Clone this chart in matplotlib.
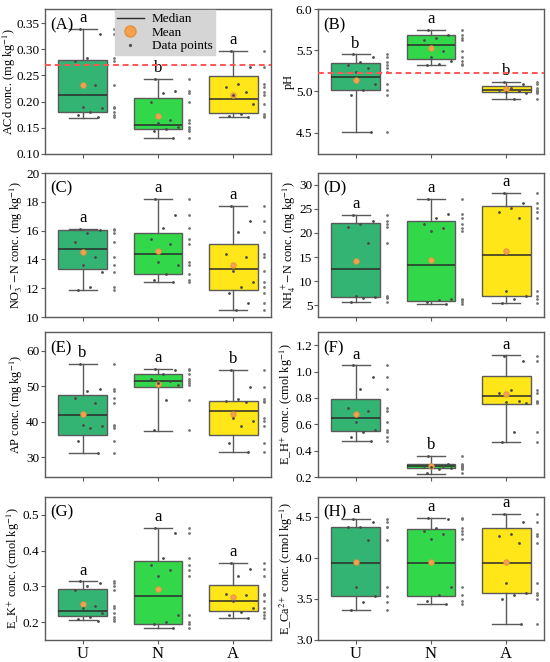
import numpy as np
import matplotlib
matplotlib.use('Agg')
import matplotlib.pyplot as plt
from matplotlib.lines import Line2D

plt.rcParams['font.family'] = ['Liberation Serif', 'DejaVu Serif']
plt.rcParams['mathtext.fontset'] = 'stix'

groups = ['U', 'N', 'A']
colors = ['#34b472', '#33d84a', '#ffe619']

# box stats per panel: whislo, q1, median, q3, whishi, mean  (U, N, A)
acd_stats = [[0.169, 0.180, 0.212, 0.280, 0.339, 0.232],
             [0.130, 0.147, 0.155, 0.207, 0.244, 0.172],
             [0.170, 0.178, 0.205, 0.249, 0.297, 0.212]]
ph_stats = [[4.51, 5.02, 5.17, 5.34, 5.45, 5.14],
            [5.32, 5.39, 5.56, 5.68, 5.745, 5.53],
            [4.91, 4.99, 5.02, 5.06, 5.12, 5.03]]
no3_stats = [[11.9, 13.3, 14.7, 16.05, 16.1, 14.5],
             [12.4, 13.0, 14.4, 15.8, 18.2, 14.6],
             [10.5, 11.9, 13.3, 15.1, 17.7, 13.6]]
nh4_stats = [[5.8, 6.8, 12.5, 22.1, 23.75, 14.2],
             [5.2, 6.0, 13.3, 22.4, 27.0, 14.4],
             [5.5, 6.9, 15.4, 25.5, 28.3, 16.2]]
ap_stats = [[31.3, 36.4, 41.9, 47.6, 56.4, 42.2],
            [37.5, 49.9, 51.5, 53.4, 55.0, 50.6],
            [31.5, 36.4, 43.2, 45.9, 54.6, 42.1]]
eh_stats = [[0.475, 0.549, 0.649, 0.792, 1.047, 0.677],
            [0.225, 0.266, 0.284, 0.297, 0.363, 0.282],
            [0.465, 0.756, 0.812, 0.965, 1.123, 0.827]]
ek_stats = [[0.206, 0.218, 0.232, 0.293, 0.314, 0.250],
            [0.185, 0.195, 0.274, 0.370, 0.464, 0.294],
            [0.213, 0.232, 0.260, 0.304, 0.366, 0.272]]
eca_stats = [[3.36, 3.53, 3.94, 4.38, 4.467, 3.955],
             [3.44, 3.54, 3.94, 4.345, 4.49, 3.955],
             [3.20, 3.57, 3.94, 4.365, 4.53, 3.95]]

# raw data points (U, N, A)
acd_pts = [[0.339, 0.330, 0.284, 0.277, 0.232, 0.190, 0.187, 0.180, 0.175, 0.170],
           [0.243, 0.221, 0.216, 0.199, 0.165, 0.159, 0.152, 0.148, 0.143, 0.130],
           [0.297, 0.266, 0.233, 0.228, 0.219, 0.212, 0.195, 0.177, 0.172, 0.170]]
ph_pts = [[5.45, 5.42, 5.36, 5.32, 5.28, 5.24, 5.09, 5.02, 4.96, 4.51],
          [5.74, 5.68, 5.65, 5.62, 5.49, 5.42, 5.37, 5.33, 5.32],
          [5.12, 5.09, 5.04, 5.02, 5.01, 4.99, 4.98, 4.91]]
no3_pts = [[16.1, 16.05, 15.8, 15.2, 14.2, 13.6, 13.1, 12.1, 11.9],
           [18.2, 17.1, 16.2, 15.4, 15.1, 13.8, 13.6, 13.0, 12.6, 12.4],
           [17.7, 16.7, 15.9, 14.4, 14.2, 13.2, 12.4, 12.1, 11.7, 11.0, 10.5]]
nh4_pts = [[23.7, 22.5, 21.8, 21.3, 17.9, 7.0, 6.8, 6.6, 5.8],
           [27.0, 24.0, 23.0, 21.8, 21.0, 20.4, 6.4, 6.2, 5.8, 5.3],
           [28.3, 26.2, 25.2, 24.4, 23.0, 8.0, 6.9, 6.4, 5.6]]
ap_pts = [[56.4, 49.3, 48.7, 46.8, 45.2, 39.2, 38.8, 38.3, 34.5, 31.3],
          [55.0, 54.6, 53.5, 52.0, 51.5, 51.0, 50.4, 46.3, 37.6],
          [54.6, 49.8, 46.5, 45.8, 45.6, 41.0, 40.2, 38.8, 34.2, 31.6]]
eh_pts = [[1.05, 0.96, 0.87, 0.72, 0.70, 0.62, 0.56, 0.54, 0.50, 0.475],
          [0.36, 0.30, 0.29, 0.285, 0.28, 0.275, 0.27, 0.26, 0.23],
          [1.12, 1.08, 0.86, 0.84, 0.78, 0.77, 0.76, 0.54, 0.465]]
ek_pts = [[0.314, 0.31, 0.30, 0.29, 0.245, 0.24, 0.225, 0.215, 0.21, 0.205],
          [0.464, 0.45, 0.38, 0.36, 0.345, 0.33, 0.22, 0.20, 0.195, 0.185],
          [0.366, 0.35, 0.33, 0.28, 0.275, 0.26, 0.24, 0.23, 0.22, 0.213]]
eca_pts = [[4.467, 4.43, 4.38, 4.37, 4.22, 3.65, 3.54, 3.46, 3.37],
           [4.49, 4.47, 4.36, 4.33, 4.29, 4.23, 3.65, 3.55, 3.48, 3.44],
           [4.53, 4.43, 4.29, 4.27, 4.18, 3.69, 3.57, 3.55, 3.50, 3.20]]

letters = [['a', 'b', 'a'], ['b', 'a', 'b'], ['a', 'a', 'a'], ['a', 'a', 'a'],
           ['b', 'a', 'b'], ['a', 'b', 'a'], ['a', 'a', 'a'], ['a', 'a', 'a']]
ref_lines = {0: 0.27, 1: 5.22}

panels = [
    ('(A)', 'ACd conc. (mg kg$^{-1}$)', acd_stats, acd_pts, (0.10, 0.377), np.arange(0.10, 0.36, 0.05), '%.2f'),
    ('(B)', 'pH', ph_stats, ph_pts, (4.24, 6.0), [4.5, 5.0, 5.5, 6.0], '%.1f'),
    ('(C)', 'NO$_3^-$$-$N conc. (mg kg$^{-1}$)', no3_stats, no3_pts, (10, 20), [10, 12, 14, 16, 18, 20], '%d'),
    ('(D)', 'NH$_4^+$$-$N conc. (mg kg$^{-1}$)', nh4_stats, nh4_pts, (2.6, 32.4), [5, 10, 15, 20, 25, 30], '%d'),
    ('(E)', 'AP conc. (mg kg$^{-1}$)', ap_stats, ap_pts, (24.5, 65.3), [30, 40, 50, 60], '%d'),
    ('(F)', 'E_H$^{+}$ conc. (cmol kg$^{-1}$)', eh_stats, eh_pts, (0.2, 1.30), [0.2, 0.4, 0.6, 0.8, 1.0, 1.2], '%.1f'),
    ('(G)', 'E_K$^{+}$ conc. (cmol kg$^{-1}$)', ek_stats, ek_pts, (0.151, 0.549), [0.2, 0.3, 0.4, 0.5], '%.1f'),
    ('(H)', 'E_Ca$^{2+}$ conc. (cmol kg$^{-1}$)', eca_stats, eca_pts, (3.0, 4.74), [3.0, 3.5, 4.0, 4.5], '%.1f'),
]

W, H = 550, 662
fig = plt.figure(figsize=(5.5, 6.62), dpi=100)

col_left = [45, 318]
ax_w = 226
rows = [(9, 154), (173, 317), (332, 477), (497, 640)]
edge = '#5a5a5a'

for i, (tag, ylab, stats, pts, ylim, yt, fmt) in enumerate(panels):
    r, c = divmod(i, 2)
    top, bot = rows[r]
    ax = fig.add_axes([col_left[c] / W, 1 - bot / H, ax_w / W, (bot - top) / H])

    bstats = []
    for s in stats:
        bstats.append(dict(whislo=s[0], q1=s[1], med=s[2], q3=s[3], whishi=s[4], mean=s[5], fliers=[]))
    pos = np.arange(3)
    bp = ax.bxp(bstats, positions=pos, widths=0.65, capwidths=0.37, patch_artist=True,
                showmeans=True, showfliers=False,
                boxprops=dict(edgecolor=edge, linewidth=1.0),
                medianprops=dict(color='#2b2b2b', linewidth=1.1),
                whiskerprops=dict(color=edge, linewidth=1.0),
                capprops=dict(color=edge, linewidth=1.0),
                meanprops=dict(marker='o', markerfacecolor='#f2a14f', markeredgecolor='#e8913a',
                               markersize=4, markeredgewidth=0.5))
    for patch, col in zip(bp['boxes'], colors):
        patch.set_facecolor(col)

    for k in range(3):
        vals = np.array(pts[k])
        n = len(vals)
        jit = ((np.arange(n) * 0.618 + 0.2) % 1.0) * 0.42 - 0.12
        ax.plot(k + jit, vals, ls='none', marker='o', ms=1.0, color='#4a4a4a', zorder=4)
        ax.plot(np.full(n, k + 0.41), vals, ls='none', marker='o', ms=1.0, color='#777777', zorder=4)
        ax.annotate(letters[i][k], (k, stats[k][4]), xytext=(0, 2), textcoords='offset points',
                    ha='center', va='bottom', fontsize=12)

    if i in ref_lines:
        ax.axhline(ref_lines[i], color='#ff5555', lw=1.4, ls=(0, (3, 2)), zorder=5)

    ax.set_xlim(-0.5, 2.5)
    ax.set_ylim(*ylim)
    ax.set_yticks(yt)
    ax.set_yticklabels([fmt % v for v in yt])
    ax.set_xticks(pos)
    if r == 3:
        ax.set_xticklabels(groups, fontsize=12)
    else:
        ax.set_xticklabels([])
    ax.tick_params(axis='y', labelsize=9.5, length=3, width=0.8, color=edge, pad=1)
    ax.tick_params(axis='x', length=3, width=0.8, color=edge, pad=1)
    for sp in ax.spines.values():
        sp.set_color(edge)
        sp.set_linewidth(1.0)
    ax.set_ylabel(ylab, fontsize=8.8, labelpad=0.5)
    if i == 0:
        # the wide tick labels leave little room, pull the label in a bit
        ax.yaxis.set_label_coords(-0.118, 0.5)
    ax.text(0.025, 0.89, tag, transform=ax.transAxes, fontsize=12, ha='left', va='center')

    if i == 0:
        handles = [Line2D([], [], color='#2b2b2b', lw=1),
                   Line2D([], [], ls='none', marker='o', ms=8, mfc='#f2a14f', mec='#e8913a'),
                   Line2D([], [], ls='none', marker='o', ms=1.3, color='#505050')]
        leg = ax.legend(handles, ['Median', 'Mean', 'Data points'], loc='upper center',
                        bbox_to_anchor=(0.53, 1.0), fontsize=9.5, frameon=True, fancybox=False,
                        facecolor='#d5d5d5', edgecolor='#d5d5d5', framealpha=1,
                        borderpad=0.2, labelspacing=0.1, handlelength=2.0, handletextpad=0.6,
                        borderaxespad=0.1)
        leg.set_zorder(10)

fig.savefig('out.png', dpi=100)
